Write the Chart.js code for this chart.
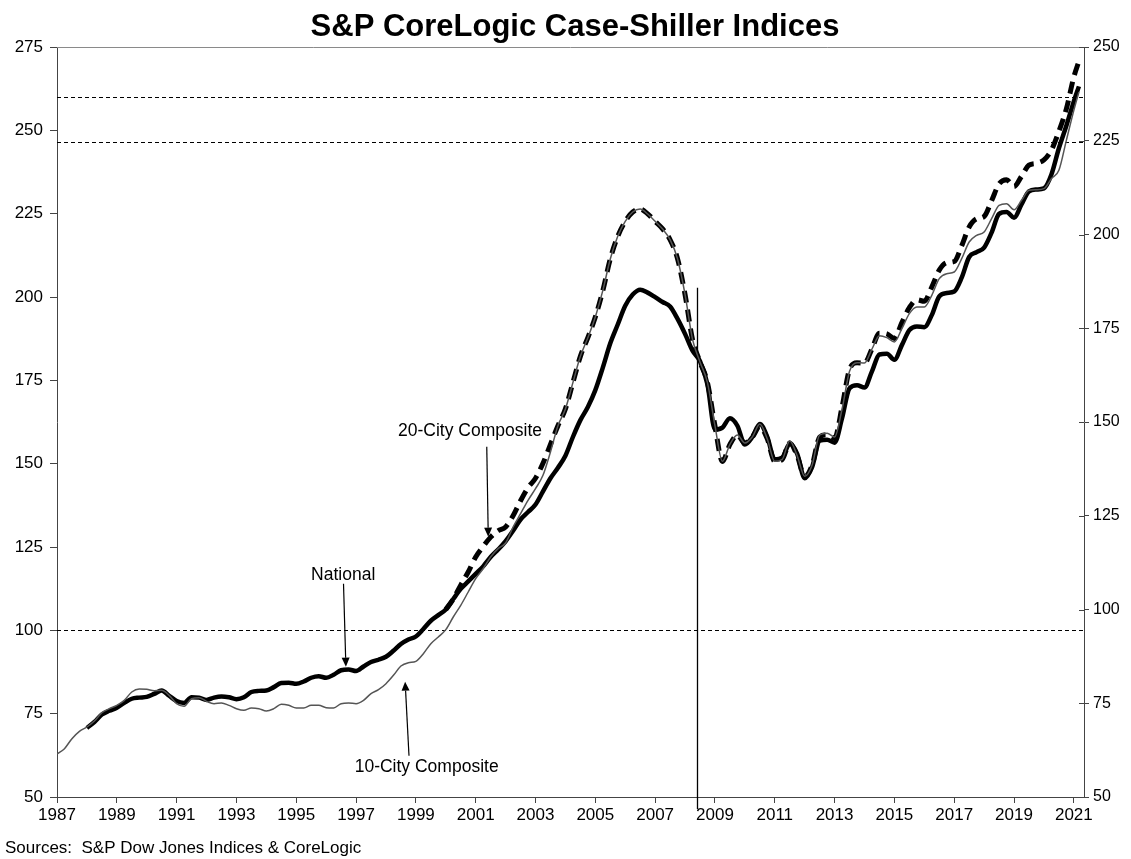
<!DOCTYPE html>
<html>
<head>
<meta charset="utf-8">
<script src="https://cdn.jsdelivr.net/npm/chart.js@4.4.0/dist/chart.umd.min.js"></script>
<style>
  body { margin: 0; background: #fff; }
  #wrap { width: 1131px; height: 859px; }
</style>
</head>
<body>
<div id="wrap"><canvas id="csChart" width="1131" height="859"></canvas></div>
<script>
// quarterly dates (decimal years) 1987Q1 .. 2021Q1, plus latest month
var dates = [];
for (var q = 0; q <= 136; q++) dates.push(1987 + q * 0.25);
dates.push(2021.17);

var yearTicks = [1987, 1989, 1991, 1993, 1995, 1997, 1999, 2001, 2003, 2005, 2007, 2009, 2011, 2013, 2015, 2017, 2019, 2021];

// 10-City Composite (left axis), from 1987Q1
var tenCity = [
  62.9, 64.5, 67.5, 69.7,
  71.0, 72.8, 75.3, 76.5,
  77.5, 79.0, 81.5, 82.4,
  82.3, 81.9, 82.0, 80.5,
  78.0, 77.2, 79.5, 79.8,
  78.7, 78.0, 78.2, 77.5,
  76.5, 76.0, 76.7, 76.5,
  75.8, 76.5, 77.8, 77.5,
  76.7, 76.7, 77.5, 77.5,
  76.8, 76.7, 78.0, 78.2,
  78.0, 79.0, 81.0, 82.2,
  84.0, 86.5, 89.3, 90.3,
  90.7, 93.0, 96.0, 98.0,
  100.2, 104.0, 107.5, 111.5,
  115.5, 118.5, 122.0, 124.5,
  126.2, 131.0, 135.0, 139.0,
  142.5, 146.5, 153.5, 161.4,
  166.4, 174.3, 182.2, 187.8,
  194.0, 201.9, 211.4, 218.2,
  222.7, 225.5, 226.4, 224.9,
  222.7, 220.4, 217.2, 211.4,
  200.8, 187.3, 180.5, 174.3,
  161.4, 150.7, 155.8, 158.6,
  156.2, 158.0, 161.9, 157.4,
  150.7, 151.3, 156.9, 152.4,
  146.2, 149.6, 158.6, 159.1,
  158.0, 166.4, 177.7, 180.3,
  180.2, 184.4, 188.4, 187.8,
  186.5, 190.5, 195.0, 197.0,
  197.0, 200.5, 205.5, 207.0,
  207.5, 211.5, 216.5, 218.5,
  219.5, 223.5, 227.5, 228.0,
  226.2, 229.0, 232.0, 232.2,
  232.5, 235.5, 238.0, 247.0,
  256.0, 261.5
];

// National (right axis), from 1988Q1
var national = [
  68.4, 70.0, 72.0, 73.0,
  73.8, 75.1, 76.2, 76.5,
  76.7, 77.5, 78.4, 77.0,
  75.6, 75.1, 76.6, 76.5,
  75.9, 76.5, 76.8, 76.6,
  76.1, 76.6, 78.0, 78.3,
  78.4, 79.3, 80.4, 80.5,
  80.2, 80.8, 81.8, 82.2,
  81.8, 82.6, 83.8, 84.0,
  83.6, 84.8, 86.0, 86.6,
  87.4, 89.0, 90.8, 92.0,
  92.8, 94.8, 97.0, 98.5,
  100.0, 102.8, 105.5, 107.5,
  109.5, 111.5, 114.0, 116.0,
  118.2, 121.0, 124.0, 126.0,
  128.0, 131.5, 135.0, 137.8,
  141.0, 146.0, 150.5, 154.0,
  158.5, 164.5, 171.0, 176.0,
  181.0, 184.0, 185.3, 184.5,
  183.3, 182.0, 180.8, 177.5,
  173.5, 169.0, 166.2, 160.0,
  148.0, 148.5, 151.0, 149.0,
  144.0, 146.0, 149.5, 146.0,
  140.0, 140.5, 144.2, 141.5,
  135.0, 138.0, 145.0, 145.3,
  144.5, 151.0, 159.0, 159.8,
  159.2, 163.5, 168.0, 168.2,
  166.6, 170.5, 174.5, 175.5,
  175.3, 178.5, 183.5, 184.4,
  184.8, 188.5, 194.0, 195.3,
  196.5, 200.5, 205.5, 206.0,
  204.5, 208.0, 211.5, 212.0,
  212.3, 216.0, 223.0, 229.0,
  235.5, 239.5
];

// 20-City Composite (right axis), from 2000Q1
var twentyCity = [
  100.0, 102.8, 106.5, 110.0,
  114.0, 116.8, 119.3, 121.0,
  122.0, 125.0, 129.0, 132.5,
  135.0, 139.0, 144.0, 149.0,
  153.5, 160.5, 167.5, 172.5,
  178.0, 185.0, 193.5, 199.5,
  203.5, 206.0, 206.8, 205.5,
  203.5, 201.5, 198.6, 193.5,
  184.0, 172.0, 166.0, 160.5,
  149.0, 139.5, 144.0, 146.5,
  144.4, 146.0, 148.8, 145.5,
  139.5, 140.0, 144.4, 141.0,
  135.5, 138.5, 146.0, 146.6,
  145.7, 154.0, 164.0, 165.8,
  165.7, 169.5, 173.7, 173.5,
  172.3, 176.5, 180.5, 182.6,
  182.2, 186.0, 190.5, 192.5,
  192.8, 197.0, 202.0, 204.2,
  204.8, 209.0, 213.5, 214.6,
  212.8, 215.5, 218.5, 219.0,
  219.9, 222.5, 227.5, 233.5,
  242.0, 246.2
];

// dotted reference levels (left axis) and the vertical marker
var refLevels = [260, 246.4, 100];
var markerYear = 2008.39;
var markerTop = 202.8;

function series(startYear, values) {
  var start = dates.indexOf(startYear);
  return values.map(function (v, i) { return { x: dates[start + i], y: v }; });
}

var FONT = '"Liberation Sans", Arial, sans-serif';

// text labels with arrows, in data units of the left axis
var notes = [
  { text: '20-City Composite', x: 2000.81, y: 159.6, from: [2001.37, 155.1], to: [2001.42, 128.1] },
  { text: 'National', x: 1996.57, y: 116.4, from: [1996.58, 114.0], to: [1996.66, 89.1] },
  { text: '10-City Composite', x: 1999.36, y: 58.9, from: [1998.77, 62.4], to: [1998.64, 84.6] }
];

var extras = {
  id: 'extras',
  beforeDatasetsDraw: function (chart) {
    var ctx = chart.ctx, a = chart.chartArea;
    var xs = chart.scales.x, yl = chart.scales.y;
    ctx.save();
    // top frame line
    ctx.strokeStyle = '#8a8a8a';
    ctx.lineWidth = 1;
    ctx.beginPath();
    ctx.moveTo(a.left, a.top + 0.5);
    ctx.lineTo(a.right, a.top + 0.5);
    ctx.stroke();
    // dotted reference lines
    ctx.strokeStyle = '#000';
    ctx.setLineDash([4, 3]);
    refLevels.forEach(function (v) {
      var y = Math.round(yl.getPixelForValue(v)) + 0.5;
      ctx.beginPath();
      ctx.moveTo(a.left, y);
      ctx.lineTo(a.right, y);
      ctx.stroke();
    });
    ctx.setLineDash([]);
    // vertical marker
    var mx = Math.round(xs.getPixelForValue(markerYear)) + 0.5;
    ctx.lineWidth = 1.3;
    ctx.beginPath();
    ctx.moveTo(mx, a.bottom + 12);
    ctx.lineTo(mx, yl.getPixelForValue(markerTop));
    ctx.stroke();
    // inner half of right-axis ticks
    var yr = chart.scales.y2;
    ctx.strokeStyle = '#444';
    ctx.lineWidth = 1;
    yr.ticks.forEach(function (t) {
      var y = Math.round(yr.getPixelForValue(t.value)) + 0.5;
      ctx.beginPath();
      ctx.moveTo(a.right - 5, y);
      ctx.lineTo(a.right, y);
      ctx.stroke();
    });
    ctx.restore();
  },
  afterDraw: function (chart) {
    var ctx = chart.ctx;
    var xs = chart.scales.x, yl = chart.scales.y;
    ctx.save();
    ctx.fillStyle = '#000';
    ctx.textBaseline = 'middle';
    ctx.textAlign = 'center';
    ctx.font = 'bold 31px ' + FONT;
    ctx.fillText('S&P CoreLogic Case-Shiller Indices', 575, 27);
    ctx.textAlign = 'left';
    ctx.font = '17px ' + FONT;
    ctx.fillText('Sources:  S&P Dow Jones Indices & CoreLogic', 5, 848);

    notes.forEach(function (n) {
      ctx.font = '17.5px ' + FONT;
      ctx.textAlign = 'center';
      ctx.fillText(n.text, xs.getPixelForValue(n.x), yl.getPixelForValue(n.y));
      var x1 = xs.getPixelForValue(n.from[0]), y1 = yl.getPixelForValue(n.from[1]);
      var x2 = xs.getPixelForValue(n.to[0]), y2 = yl.getPixelForValue(n.to[1]);
      var ang = Math.atan2(y2 - y1, x2 - x1);
      var hl = 9, hw = 4;
      ctx.strokeStyle = '#000';
      ctx.lineWidth = 1.2;
      ctx.beginPath();
      ctx.moveTo(x1, y1);
      ctx.lineTo(x2 - hl * Math.cos(ang), y2 - hl * Math.sin(ang));
      ctx.stroke();
      ctx.beginPath();
      ctx.moveTo(x2, y2);
      ctx.lineTo(x2 - hl * Math.cos(ang) - hw * Math.sin(ang), y2 - hl * Math.sin(ang) + hw * Math.cos(ang));
      ctx.lineTo(x2 - hl * Math.cos(ang) + hw * Math.sin(ang), y2 - hl * Math.sin(ang) - hw * Math.cos(ang));
      ctx.closePath();
      ctx.fill();
    });
    ctx.restore();
  }
};

var ctx = document.getElementById('csChart').getContext('2d');
var csChart = new Chart(ctx, {
  type: 'line',
  data: {
    datasets: [{
        label: 'National',
        data: series(1988, national),
        yAxisID: 'y2',
        borderColor: '#000',
        borderWidth: 4.5,
        order: 3
      }, {
        label: '20-City Composite',
        data: series(2000, twentyCity),
        yAxisID: 'y2',
        borderColor: '#000',
        borderWidth: 5,
        borderDash: [12, 7],
        order: 2
      }, {
        label: '10-City Composite',
        data: series(1987, tenCity),
        yAxisID: 'y',
        borderColor: '#555',
        borderWidth: 1.5,
        order: 1
      }
    ]
  },
  options: {
    responsive: false,
    animation: false,
    layout: { padding: { top: 47, left: 0, right: 0, bottom: 0 } },
    elements: {
      point: { radius: 0 },
      line: { tension: 0, cubicInterpolationMode: 'monotone', fill: false }
    },
    plugins: {
      legend: { display: false },
      tooltip: { enabled: false },
      title: { display: false }
    },
    scales: {
      x: {
        type: 'linear',
        min: 1987,
        max: 2021.34,
        afterBuildTicks: function (s) { s.ticks = yearTicks.map(function (v) { return { value: v }; }); },
        afterFit: function (s) { s.height = 62; },
        grid: { drawOnChartArea: false, tickLength: 6, color: '#444' },
        border: { color: '#444' },
        ticks: {
          padding: 2,
          maxRotation: 0,
          autoSkip: false,
          color: '#000',
          font: { family: FONT, size: 17 },
          callback: function (v) { return String(v); }
        }
      },
      y: {
        position: 'left',
        min: 50,
        max: 275,
        afterFit: function (s) { s.width = 57; },
        grid: { drawOnChartArea: false, tickLength: 7, color: '#444' },
        border: { color: '#444' },
        ticks: { stepSize: 25, padding: 7, color: '#000', font: { family: FONT, size: 17 } }
      },
      y2: {
        position: 'right',
        min: 50,
        max: 250,
        afterFit: function (s) { s.width = 47; },
        grid: { drawOnChartArea: false, tickLength: 5, color: '#444' },
        border: { color: '#444' },
        ticks: { stepSize: 25, padding: 4, color: '#000', font: { family: FONT, size: 16 } }
      }
    }
  },
  plugins: [extras]
});
</script>
</body>
</html>
